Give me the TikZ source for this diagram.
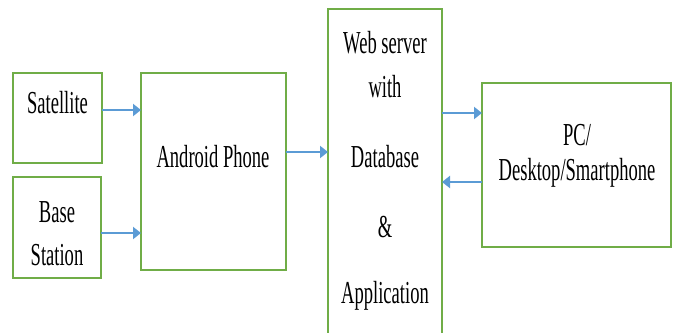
\documentclass[tikz,border=0pt]{standalone}
\usepackage{fontspec}
\setmainfont{Liberation Serif}[FakeStretch=0.58]
\usetikzlibrary{arrows.meta}
\definecolor{boxgreen}{HTML}{70AD47}
\definecolor{arrowblue}{HTML}{5B9BD5}
\begin{document}
\begin{tikzpicture}[x=1pt,y=-1pt,
  box/.style={draw=boxgreen,line width=1.8pt,inner sep=0pt,outer sep=0pt},
  lbl/.style={anchor=base,inner sep=0pt,font=\fontsize{32}{38}\selectfont},
  arr/.style={draw=arrowblue,line width=2.4pt,-{Triangle[length=8pt,width=12pt]}}]
\useasboundingbox (0,0) rectangle (676,332);
% boxes
\node[box,minimum width=89pt,minimum height=90pt] (sat) at (57.5,118) {};
\node[box,minimum width=88pt,minimum height=101pt] (base) at (57,227.5) {};
\node[box,minimum width=145pt,minimum height=197pt] (android) at (213.5,171.5) {};
\node[box,minimum width=114pt,minimum height=351pt] (web) at (385,184.5) {};
\node[box,minimum width=189pt,minimum height=164pt] (pc) at (576.5,165) {};
% labels
\node[lbl] (tsat) at (57.5,113) {Satellite};
\node[lbl] (tbase1) at (57,222) {Base};
\node[lbl] (tbase2) at (57,265) {Station};
\node[lbl] (tandroid) at (213,167) {Android Phone};
\node[lbl] (tweb1) at (385,53) {Web server};
\node[lbl] (tweb2) at (385,97) {with};
\node[lbl] (tweb3) at (385,167) {Database};
\node[lbl] (tweb4) at (385,237) {\&};
\node[lbl] (tweb5) at (385,303) {Application};
\node[lbl] (tpc1) at (577,145) {PC/};
\node[lbl] (tpc2) at (577,180) {Desktop/Smartphone};
% connectors
\draw[arr] (sat.east |- 0,110) -- (android.west |- 0,110);
\draw[arr] (base.east |- 0,233) -- (android.west |- 0,233);
\draw[arr] (android.east |- 0,152) -- (web.west |- 0,152);
\draw[arr] (web.east |- 0,113) -- (pc.west |- 0,113);
\draw[arr] (pc.west |- 0,182) -- (web.east |- 0,182);
\end{tikzpicture}
\end{document}
